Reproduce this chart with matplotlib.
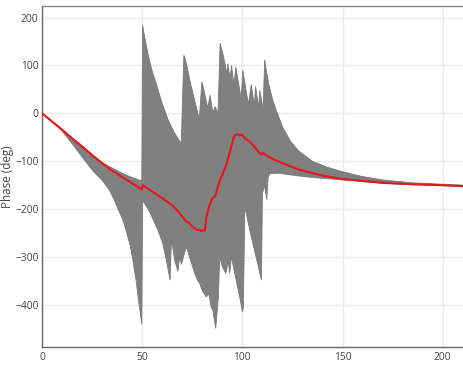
import matplotlib
matplotlib.use("Agg")
import matplotlib.pyplot as plt
import numpy as np

# ---- data ----
x_upper = [0, 5, 10, 15, 20, 25, 30, 35, 40, 45, 49.8,
           50.2, 51, 52, 53, 54, 55, 57, 60, 63, 66, 69.5,
           70.8, 72, 74, 76, 78.5,
           79.8, 81, 82.7, 83.9, 85.2, 86.5, 87.8,
           88.9, 90.5, 91.5, 92.1, 92.8, 93.8, 94.6, 95.8, 96.7, 99.4, 100.2,
           103, 104.4, 106, 106.6, 108.1, 108.7, 110.4,
           111.1, 112, 113, 115, 117, 120, 124, 128, 135, 142, 150, 160,
           170, 185, 200, 210.6]
upper = [0, -17, -34, -52, -69, -87, -103, -114, -125, -134, -141,
         184, 165, 143, 122, 104, 88, 62, 20, -14, -40, -63,
         122, 105, 65, 30, -12,
         66, 45, 10, 38, 2, 14, -2,
         146, 120, 100, 82, 104, 72, 100, 58, 97, 30, 90,
         18, 60, 16, 56, 12, 48, 8,
         112, 88, 64, 30, 5, -28, -58, -78, -100, -112, -122, -132,
         -139, -145, -148, -150]

x_lower = [0, 5, 10, 15, 20, 25, 30, 33.6, 36, 38, 40.3, 42, 44, 45.3, 47, 48.5, 49.8,
           50.2, 53, 55.3, 58, 60.3, 62, 63.9, 64.6, 66.2, 67.8, 68.7, 69.6, 70.8,
           72, 74, 76.2, 77.8, 78.7, 80, 82, 83.2, 84.5, 85.3, 86.7, 88, 88.7, 90,
           91.7, 93, 93.7, 94.5, 96, 97.5, 99, 100, 100.5, 101.2, 102, 104, 106,
           108, 109.5, 110, 111, 111.6, 112.2, 112.8, 113.7, 118, 125, 135, 150, 170,
           185, 200, 210.6]
lower = [0, -17, -37, -63, -91, -118, -140, -160, -180, -200, -222, -245, -275, -305, -350, -400, -440,
         -182, -200, -220, -245, -272, -305, -348, -262, -306, -330, -299, -315, -296,
         -278, -305, -334, -350, -355, -370, -383, -376, -405, -411, -449, -385, -299, -320,
         -334, -310, -334, -299, -330, -360, -390, -414, -405, -195, -210, -250, -285,
         -320, -348, -168, -150, -165, -180, -135, -126, -125, -129, -134, -139, -146,
         -149, -151, -153]

x_mean = [0, 5, 10, 15, 20, 25, 30, 34, 40, 45, 49.8, 50.2, 55, 60, 65, 68, 70.3, 72,
          73.5, 74.5, 76.2, 77.5, 78.5, 79.5, 80.5, 81.2, 82, 83, 84.5, 85.5, 86.5,
          88.7, 90, 92, 92.8, 94.5, 95.5, 96.5, 97.5, 98.5, 99.5, 100.5, 101.2, 103.7,
          105.3, 107.8, 109.5, 110.3, 112, 116, 120, 128.6, 140, 150, 170, 185, 200, 210.6]
mean = [0, -17, -34, -52, -69, -87, -104, -117, -133, -146, -159, -150, -163, -177,
        -192, -205, -217, -226, -229, -234, -240, -244, -243, -246, -243, -245, -218,
        -200, -181, -176, -173, -140, -128, -108, -95, -70, -52, -45, -44, -46, -44,
        -48, -52, -59, -66, -79, -86, -83, -88, -97, -104, -118, -130, -137, -145,
        -148, -150, -152]

x_ticks = [0, 50, 100, 150, 200]
y_ticks = [-400, -300, -200, -100, 0, 100, 200]
y_label = "Phase (deg)"

# ---- figure ----
plt.rcParams['font.family'] = ['Open Sans', 'DejaVu Sans']
fig = plt.figure(figsize=(4.64, 3.75), dpi=100)
ax = fig.add_axes([42 / 464, 28.3 / 375, 1 - 42 / 464, (346.7 - 6) / 375])

poly_x = list(x_upper) + list(x_lower[::-1])
poly_y = list(upper) + list(lower[::-1])
ax.fill(poly_x, poly_y, facecolor='#808080', edgecolor='#787878', linewidth=0.6, zorder=2)
ax.plot(x_mean, mean, color='#e8141c', linewidth=1.5, zorder=3)

ax.set_xlim(0, 210.6)
ax.set_ylim(-487, 224)
ax.set_xticks(x_ticks)
ax.set_yticks(y_ticks)
ax.grid(True, color='#ebebeb', linewidth=1.0, zorder=0)
ax.set_axisbelow(True)
ax.tick_params(length=0, labelsize=7.4, labelcolor='#444444')
ax.tick_params(axis='y', pad=2.5)
ax.tick_params(axis='x', pad=4)
for side in ['left', 'bottom', 'top']:
    ax.spines[side].set_color('#666666')
    ax.spines[side].set_linewidth(1.0)
ax.spines['top'].set_color('#888888')
ax.spines['right'].set_visible(False)
ax.set_ylabel(y_label, fontsize=8.4, color='#444444')
ax.yaxis.set_label_coords((8.0 - 42) / 422, 0.5)
ax.yaxis.label.set_verticalalignment('center')

fig.savefig('out.png', dpi=100)
